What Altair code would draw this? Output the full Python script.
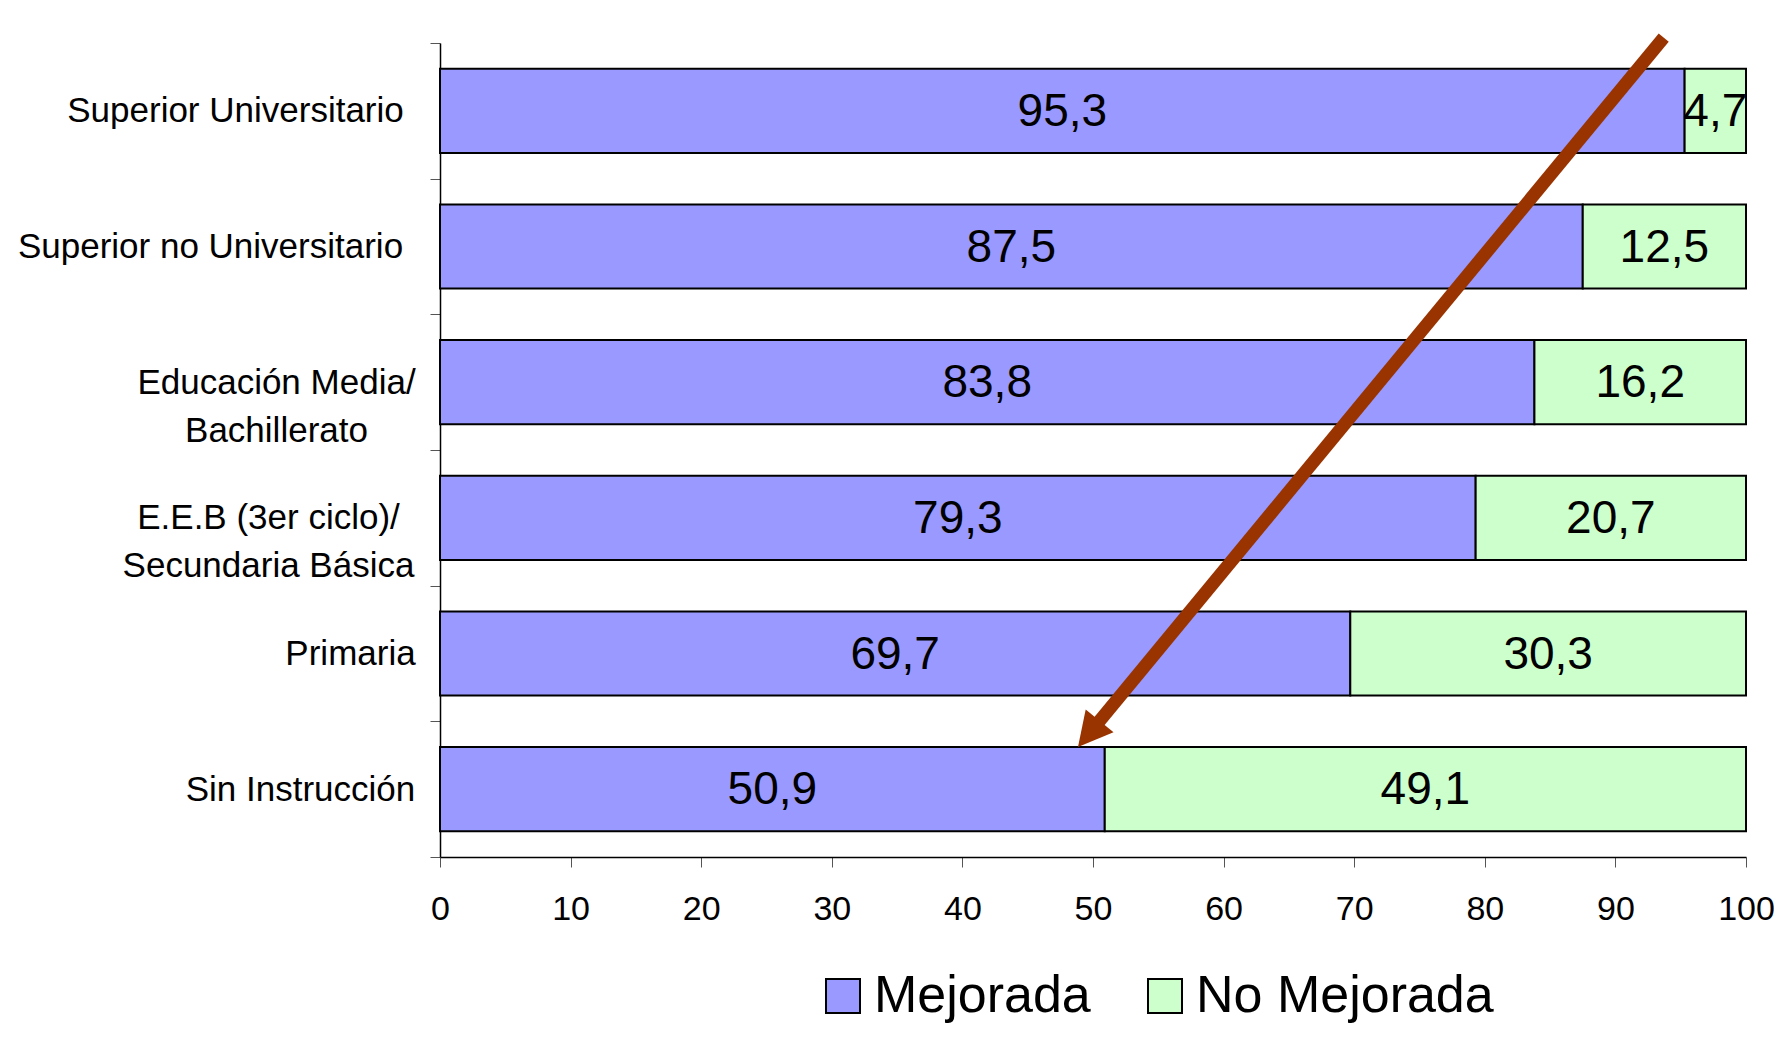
import altair as alt
import pandas as pd

# ---- data ----
categories = [
    "Superior Universitario",
    "Superior no Universitario",
    "Educación Media/|Bachillerato",
    "E.E.B (3er ciclo)/|Secundaria Básica",
    "Primaria",
    "Sin Instrucción",
]
mejorada = [95.3, 87.5, 83.8, 79.3, 69.7, 50.9]
no_mejorada = [4.7, 12.5, 16.2, 20.7, 30.3, 49.1]
series = ["Mejorada", "No Mejorada"]
series_colors = ["#9999ff", "#ccffcc"]
x_ticks = [0, 10, 20, 30, 40, 50, 60, 70, 80, 90, 100]

# arrow annotation: x in percent units, y in category-row units counted from the top
arrow_x = [93.7, 49.7]
arrow_y = [-0.04, 5.09]
head_x = [48.85]
head_y = [5.19]

FONT = "Liberation Sans"

rows = []
for cat, m, n in zip(categories, mejorada, no_mejorada):
    rows.append({"nivel": cat, "serie": series[0], "orden": 0, "valor": m})
    rows.append({"nivel": cat, "serie": series[1], "orden": 1, "valor": n})
df = pd.DataFrame(rows)

arrow_df = pd.DataFrame({"ax": arrow_x, "ay": arrow_y, "o": list(range(len(arrow_x)))})
head_df = pd.DataFrame({"hx": head_x, "hy": head_y})

# per-label padding so that each (multi-line, centred) label block sits where it does in the reference
pad_cond = {
    "condition": [
        {"test": "datum.value === 'Superior Universitario'", "value": 195},
        {"test": "datum.value === 'Superior no Universitario'", "value": 220},
        {"test": "datum.value === 'Educación Media/|Bachillerato'", "value": 154},
        {"test": "datum.value === 'E.E.B (3er ciclo)/|Secundaria Básica'", "value": 162},
        {"test": "datum.value === 'Primaria'", "value": 80},
    ],
    "value": 130,
}

y_scale = alt.Scale(paddingInner=0, paddingOuter=0)

y_enc = alt.Y(
    "nivel:N",
    sort=categories,
    scale=y_scale,
    axis=alt.Axis(
        title=None,
        labelExpr="split(datum.label, '|')",
        labelAlign="center",
        labelBaseline="middle",
        labelPadding=pad_cond,
        labelFontSize=35,
        labelLineHeight=48,
        labelFont=FONT,
        labelColor="black",
        labelLimit=1000,
        tickBand="extent",
        tickSize=10,
        tickColor="#555555",
        domainColor="black",
        domainWidth=1.5,
        grid=False,
    ),
)

x_scale = alt.Scale(domain=[0, 100], nice=False, zero=True)
x_axis = alt.Axis(
    values=x_ticks,
    title=None,
    tickSize=10,
    tickColor="#555555",
    domainColor="black",
    domainWidth=1.5,
    labelPadding=25,
    labelFontSize=34,
    labelFont=FONT,
    labelColor="black",
    labelFlush=False,
    grid=False,
)

base = alt.Chart(df).transform_stack(
    stack="valor",
    groupby=["nivel"],
    as_=["x0", "x1"],
    sort=[alt.SortField("orden", order="ascending")],
)

bars = base.mark_bar(stroke="black", strokeWidth=2, height={"band": 0.62}).encode(
    x=alt.X("x0:Q", scale=x_scale, axis=x_axis),
    x2="x1:Q",
    y=y_enc,
    color=alt.Color(
        "serie:N",
        scale=alt.Scale(domain=series, range=series_colors),
        legend=alt.Legend(
            orient="none",
            legendX=377,
            legendY=927,
            direction="horizontal",
            title=None,
            labelFontSize=52,
            labelFont=FONT,
            labelColor="black",
            labelLimit=1000,
            labelOffset=5,
            columnPadding=48,
            symbolType="square",
            symbolSize=1156,
            symbolStrokeColor="black",
            symbolStrokeWidth=2,
            symbolOpacity=1,
        ),
    ),
    order=alt.Order("orden:Q"),
)

texts = base.transform_calculate(
    mid="(datum.x0 + datum.x1) / 2",
    etiqueta="replace(format(datum.valor, '.1f'), '.', ',')",
).mark_text(
    fontSize=46, font=FONT, color="black", align="center", baseline="middle", dy=1
).encode(
    x=alt.X("mid:Q", scale=x_scale, axis=x_axis),
    y=alt.Y("nivel:N", sort=categories, scale=y_scale),
    text="etiqueta:N",
)

main = alt.layer(bars, texts)

arrow_y_scale = alt.Scale(domain=[0, 6], reverse=True, nice=False, zero=False)

arrow_line = alt.Chart(arrow_df).mark_line(
    color="#993300", strokeWidth=13, strokeCap="butt", clip=False
).encode(
    x=alt.X("ax:Q", scale=x_scale, axis=x_axis),
    y=alt.Y("ay:Q", scale=arrow_y_scale, axis=None),
    order="o:Q",
)

arrow_head = alt.Chart(head_df).mark_point(
    shape="M0,0 L-0.53,1 L0.53,1 Z",
    size=4624,
    angle=219.5,
    filled=True,
    color="#993300",
    opacity=1,
    clip=False,
).encode(
    x=alt.X("hx:Q", scale=x_scale, axis=x_axis),
    y=alt.Y("hy:Q", scale=arrow_y_scale, axis=None),
)

arrow = alt.layer(arrow_line, arrow_head)

chart = (
    alt.layer(main, arrow)
    .resolve_scale(y="independent")
    .properties(
        width=1306,
        height=814,
        autosize=alt.AutoSizeParams(type="none"),
        padding={"left": 432, "top": 35, "right": 28, "bottom": 180},
        background="white",
    )
    .configure_view(stroke=None)
)

chart.save("out.html", embed_options={"renderer": "svg", "actions": False})
